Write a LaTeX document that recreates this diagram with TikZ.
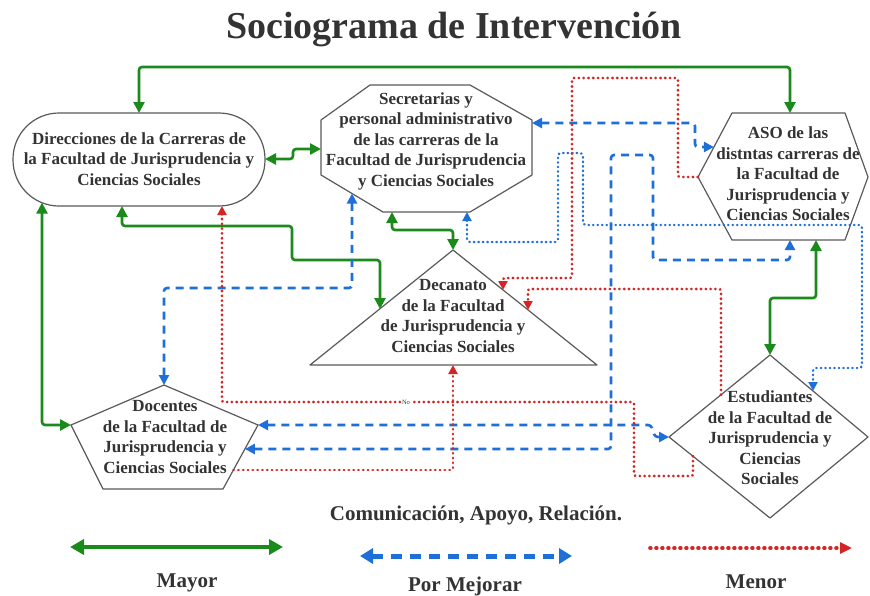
\documentclass[tikz,border=0pt]{standalone}
\usepackage{fontspec}
\setmainfont{Liberation Serif}
\usetikzlibrary{arrows.meta}
\definecolor{grn}{HTML}{1A8A1A}
\definecolor{blu}{HTML}{1F6FD8}
\definecolor{redd}{HTML}{D42525}
\definecolor{txt}{HTML}{333333}
\definecolor{edgec}{HTML}{5A5A5A}
\tikzset{
  shp/.style={draw=edgec, line width=1.2pt, fill=white, line join=round},
  lbl/.style={text=txt, font=\fontsize{17}{20.5}\selectfont\bfseries, align=center, inner sep=0pt},
  leg/.style={text=txt, font=\fontsize{21}{24}\selectfont\bfseries, inner sep=0pt, anchor=base},
  tipg/.tip={Triangle[length=11pt,width=11pt]},
  tipb/.tip={Triangle[length=10pt,width=10pt]},
  tipr/.tip={Triangle[length=9pt,width=9pt]},
  major/.style={draw=grn, line width=2.6pt, rounded corners=3pt, tipg-tipg},
  better/.style={draw=blu, line width=2.6pt, dash pattern=on 8pt off 6pt, rounded corners=3pt, tipb-tipb},
  betterdot/.style={draw=blu, line width=2.4pt, line cap=round, dash pattern=on 0.5pt off 4pt, rounded corners=3pt, tipr-tipr},
  minor/.style={draw=redd, line width=2.6pt, line cap=round, dash pattern=on 0.5pt off 4.3pt, rounded corners=2pt, -tipr},
}
\begin{document}
\begin{tikzpicture}[x=1pt,y=-1pt]
\useasboundingbox (0,0) rectangle (870,595);
\fill[white] (0,0) rectangle (870,595);

% title
\node[text=txt, font=\fontsize{38}{42}\selectfont\bfseries, inner sep=0pt, anchor=base] (title) at (454,38) {Sociograma de Intervención};

% shapes
\draw[shp, rounded corners=46pt] (13,113) rectangle (265,206);
\draw[shp] (370,85) -- (470,85) -- (532,120) -- (532,175) -- (470,212) -- (383,212) -- (321,175) -- (321,120) -- cycle;
\draw[shp] (698,177) -- (732,113) -- (845,113) -- (868,177) -- (845,240) -- (732,240) -- cycle;
\draw[shp] (453,250) -- (597,365) -- (310,365) -- cycle;
\draw[shp] (164,385) -- (258,425) -- (223,489) -- (103,489) -- (71,425) -- cycle;
\draw[shp] (770,355) -- (868,437) -- (770,518) -- (669,437) -- cycle;

% texts
\node[lbl] (dir) at (139,159) {Direcciones de la Carreras de\\la Facultad de Jurisprudencia y\\Ciencias Sociales};
\node[lbl] (sec) at (426,141) {Secretarias y\\personal administrativo\\de las carreras de la\\Facultad de Jurisprudencia\\y Ciencias Sociales};
\node[lbl] (aso) at (788,174) {ASO de las\\distntas carreras de\\la Facultad de\\Jurisprudencia y\\Ciencias Sociales};
\node[lbl] (dec) at (453,316) {Decanato\\de la Facultad\\de Jurisprudencia y\\Ciencias Sociales};
\node[lbl] (doc) at (165,437) {Docentes\\de la Facultad de\\Jurisprudencia y\\Ciencias Sociales};
\node[lbl] (est) at (770,438) {Estudiantes\\de la Facultad de\\Jurisprudencia y\\Ciencias\\Sociales};

% connection points
\coordinate (dirN) at (139,113);
\coordinate (dirE) at (265,159);
\coordinate (dirS1) at (122,206);
\coordinate (dirSW) at (42,202.6);
\coordinate (dirS2) at (222,206);
\coordinate (secW) at (321,149);
\coordinate (secS1) at (392,212);
\coordinate (secSW) at (352,193.5);
\coordinate (secS2) at (467,212);
\coordinate (secE) at (532,123);
\coordinate (asoN) at (790,113);
\coordinate (asoNW) at (713.9,147);
\coordinate (asoW) at (698,177);
\coordinate (asoS1) at (790,240);
\coordinate (asoS2) at (816,240);
\coordinate (decN) at (453,250);
\coordinate (decW) at (380,309);
\coordinate (decE1) at (503,290);
\coordinate (decE2) at (528,310);
\coordinate (decS) at (453,365);
\coordinate (docN) at (164,385);
\coordinate (docW) at (71,425);
\coordinate (docE) at (258,425);
\coordinate (docE2) at (244.9,449);
\coordinate (docE3) at (233.4,470);
\coordinate (estN) at (770,355);
\coordinate (estW) at (669,437);
\coordinate (estNE) at (813,391);
\coordinate (estNW) at (721,395);
\coordinate (estSW) at (693,456);

% green: mayor
\draw[major] (dirN) -- (139,67) -- (790,67) -- (asoN);
\draw[major] (dirE) -- (293,159) -- (293,149) -- (secW);
\draw[major] (dirS1) -- (122,226) -- (292,226) -- (292,260) -- (380,260) -- (decW);
\draw[major] (secS1) -- (392,230) -- (453,230) -- (decN);
\draw[major] (dirSW) -- (42,425) -- (docW);
\draw[major] (asoS2) -- (816,298) -- (770,298) -- (estN);

% blue dashed: por mejorar
\draw[better] (secE) -- (695,123) -- (695,147) -- (asoNW);
\draw[better] (secSW) -- (352,288) -- (164,288) -- (docN);
\draw[better] (docE2) -- (611,449) -- (611,155) -- (653,155) -- (653,260) -- (790,260) -- (asoS1);
\draw[better] (docE) -- (651,425) -- (655,437) -- (estW);

% blue dotted
\draw[betterdot] (secS2) -- (467,242) -- (558,242) -- (558,153) -- (583,153) -- (583,225) -- (862,225) -- (862,368) -- (813,368) -- (estNE);

% red dotted: menor
\draw[minor] (docE3) -- (453,470) -- (decS);
\draw[minor] (estSW) -- (693,476) -- (634,476) -- (634,402) -- (222,402) -- (dirS2);
\draw[minor] (asoW) -- (678,177) -- (678,78) -- (572,78) -- (572,278) -- (503,278) -- (decE1);
\draw[minor] (estNW) -- (721,289) -- (528,289) -- (decE2);
\node[fill=white, text=txt, font=\fontsize{6.5}{7}\selectfont, inner sep=0.6pt] (no) at (406,402) {No};

% legend
\node[leg] (cap) at (476,520) {Comunicación, Apoyo, Relación.};
\coordinate (gA) at (70,547);
\coordinate (gB) at (283,547);
\coordinate (bA) at (360,556);
\coordinate (bB) at (572,556);
\coordinate (rA) at (650,548);
\coordinate (rB) at (852,548);
\draw[draw=grn, line width=4pt, {Triangle[length=14pt,width=15pt]}-{Triangle[length=14pt,width=15pt]}] (gA) -- (gB);
\draw[draw=blu, line width=5pt, dash pattern=on 11pt off 8pt, {Triangle[length=13pt,width=15pt]}-{Triangle[length=13pt,width=15pt]}] (bA) -- (bB);
\draw[draw=redd, line width=3.6pt, line cap=round, dash pattern=on 0.8pt off 5.2pt, -{Triangle[length=12pt,width=11pt]}] (rA) -- (rB);
\node[leg] (may) at (187,587) {Mayor};
\node[leg] (pm) at (465,591) {Por Mejorar};
\node[leg] (men) at (756,588) {Menor};
\end{tikzpicture}
\end{document}
